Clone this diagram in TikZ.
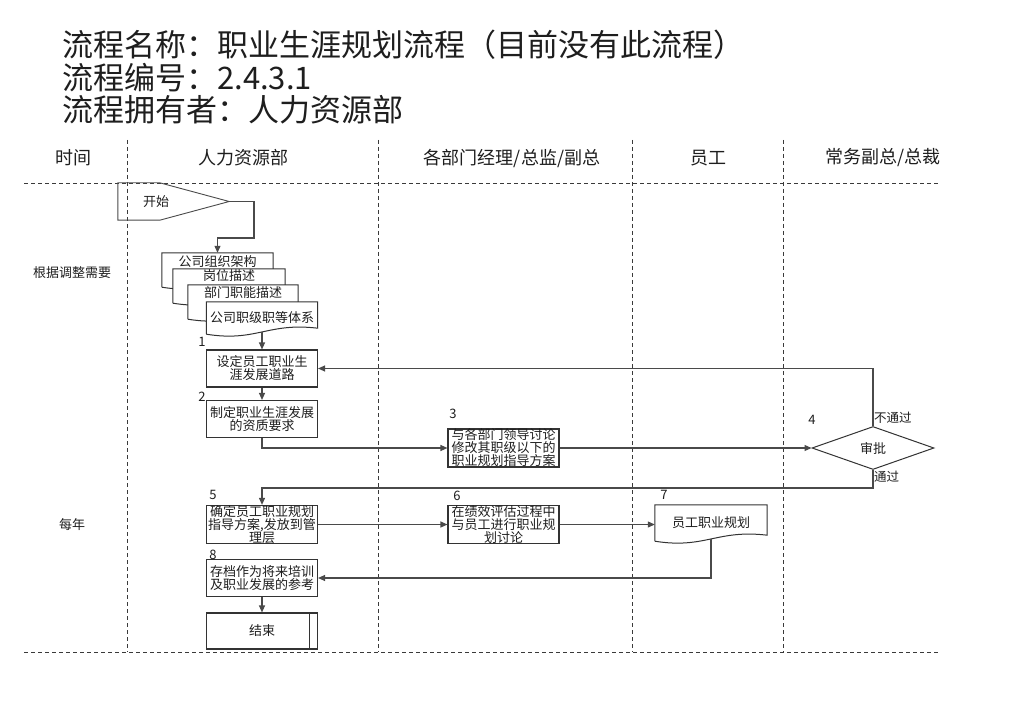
\documentclass[tikz,border=0pt]{standalone}
\usepackage{fontspec}
\setmainfont{Noto Sans CJK SC}
\usetikzlibrary{arrows.meta,shapes.geometric,calc}
\definecolor{ink}{HTML}{1E1E1E}
\definecolor{linec}{HTML}{4A4A4A}
\definecolor{boxc}{HTML}{333333}
\definecolor{lanec}{HTML}{3A3A3A}
\newcommand{\docout}[1]{%
  \draw[docline] (#1.south west) -- (#1.north west) -- (#1.north east) --
    ($(#1.south east)+(0,-6)$)
    .. controls ($(#1.south west)!0.55!(#1.south east)+(0,-12)$)
    and ($(#1.south west)!0.45!(#1.south east)+(0,8)$) .. (#1.south west);}
\begin{document}
\begin{tikzpicture}[x=1pt,y=-1pt,
  title/.style={font=\fontsize{31}{33}\selectfont, text=ink, anchor=west, inner sep=0},
  head/.style={font=\fontsize{18}{18}\selectfont, text=ink, inner sep=0},
  small/.style={font=\fontsize{13}{13}\selectfont, text=ink, inner sep=0},
  num/.style={font=\fontsize{13}{13}\selectfont, text=ink, inner sep=0},
  procbox/.style={rectangle, draw=boxc, line width=1.1pt, fill=white, minimum width=111,
    minimum height=37, inner sep=0, align=center, text=ink,
    font=\fontsize{13}{13}\selectfont},
  docnode/.style={rectangle, fill=white, minimum width=111, inner sep=0, align=center,
    text=ink, font=\fontsize{13}{13}\selectfont},
  docline/.style={draw=boxc, line width=1pt},
  startnode/.style={rectangle, minimum width=111, minimum height=37, inner sep=0},
  startline/.style={draw=linec, line width=0.9pt},
  decision/.style={diamond, draw=boxc, line width=1pt, fill=white, minimum width=122,
    minimum height=43, inner sep=0, text=ink, font=\fontsize{13}{13}\selectfont},
  lane/.style={draw=lanec, line width=0.9pt, dash pattern=on 4pt off 3pt},
  flow/.style={draw=linec, line width=1.1pt, -{Triangle[length=7pt,width=6pt]}}
]
\useasboundingbox (0,0) rectangle (1024,708);
\fill[white] (0,0) rectangle (1024,708);

% title
\node[title] (ti1) at (62,45) {流程名称：职业生涯规划流程（目前没有此流程）};
\node[title] (ti2) at (62,78) {流程编号：2.4.3.1};
\node[title] (ti3) at (62,110) {流程拥有者：人力资源部};

% headers
\node[head] (h0) at (73,158) {时间};
\node[head] (h1) at (243,158) {人力资源部};
\node[head] (h2) at (512,158) {各部门经理/总监/副总};
\node[head] (h3) at (708,158) {员工};
\node[head] (h4) at (883,158) {常务副总/总裁};

% lanes
\draw[lane] (24,183) -- (938,183);
\draw[lane] (24,652) -- (938,652);
\foreach \x in {127,378,632,783} \draw[lane] (\x,140) -- (\x,652);

% time labels
\node[small] (t1) at (72,273) {根据调整需要};
\node[small] (t2) at (72,525) {每年};

% start
\node[startnode] (start) at (173.5,201.5) {};
\draw[startline] (start.north west) -- ($(start.north west)+(42,0)$) -- (start.east)
  -- ($(start.south west)+(42,0)$) -- (start.south west) -- cycle;
\node[small] (starttxt) at (156,202) {开始};

% document stack
\node[docnode, minimum height=34] (d1) at (217.5,270) {};
\docout{d1}
\node[small] (d1t) at ($(d1.north)+(0,8.5)$) {公司组织架构};
\node[docnode, minimum width=112, minimum height=34] (d2) at (229,286) {};
\docout{d2}
\node[small] (d2t) at ($(d2.north)+(0,7)$) {岗位描述};
\node[docnode, minimum width=110, minimum height=34] (d3) at (243,302) {};
\docout{d3}
\node[small] (d3t) at ($(d3.north)+(0,7.5)$) {部门职能描述};
\node[docnode, minimum height=32] (d4) at (262,318) {公司职级职等体系};
\docout{d4}

% process boxes
\node[procbox] (b1) at (262,368.5) {设定员工职业生\\涯发展道路};
\node[procbox] (b2) at (262,419) {制定职业生涯发展\\的资质要求};
\node[procbox, minimum height=38] (b3) at (503.5,448) {与各部门领导讨论\\修改其职级以下的\\职业规划指导方案};
\node[decision] (dia) at (873,448) {审批};
\node[procbox] (b5) at (262,524.5) {确定员工职业规划\\指导方案,发放到管\\理层};
\node[procbox] (b6) at (503.5,524.5) {在绩效评估过程中\\与员工进行职业规\\划讨论};
\node[docnode, minimum width=112, minimum height=36] (b7) at (711,523) {员工职业规划};
\docout{b7}
\node[procbox] (b8) at (262,578) {存档作为将来培训\\及职业发展的参考};
\node[procbox, minimum height=36] (end) at (262,631) {结束};
\draw[boxc, line width=1pt] ($(end.north east)+(-9,0)$) -- ($(end.south east)+(-9,0)$);

% step numbers
\node[num] (n1) at (202,342) {1};
\node[num] (n2) at (202,397) {2};
\node[num] (n3) at (453,414) {3};
\node[num] (n4) at (812,420) {4};
\node[num] (n5) at (213,495) {5};
\node[num] (n6) at (457,496) {6};
\node[num] (n7) at (664,495) {7};
\node[num] (n8) at (213,555) {8};

% connectors
\coordinate (c1) at (254,238);
\draw[flow] (start.east) -| (c1) -| (d1.north);
\draw[flow] ($(d4.south)+(0,-2)$) -- (b1.north);
\draw[flow] (b1.south) -- (b2.north);
\draw[flow] (b2.south) |- (b3.west);
\draw[flow] (b3.east) -- (dia.west);
\draw[flow] (dia.north) |- (b1.east);
\node[small, anchor=west, font=\fontsize{12.5}{12.5}\selectfont] (no) at (874,418) {不通过};
\coordinate (pass) at ($(dia.south)+(0,18)$);
\draw[flow] (dia.south) -- (pass) -| (b5.north);
\node[small, anchor=west, font=\fontsize{12.5}{12.5}\selectfont] (yes) at (874,477) {通过};
\draw[flow] (b5.east) -- (b6.west);
\draw[flow] (b6.east) -- (b6.east -| b7.west);
\draw[flow] ($(b7.south)+(0,-2)$) |- (b8.east);
\draw[flow] (b8.south) -- (end.north);
\end{tikzpicture}
\end{document}
